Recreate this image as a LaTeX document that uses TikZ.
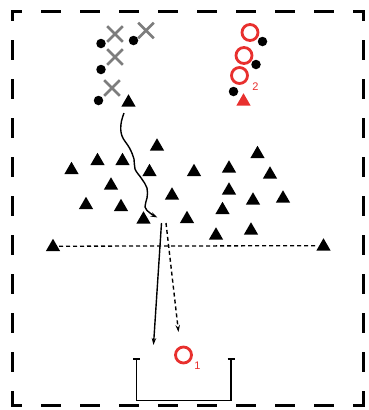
\documentclass[tikz,border=0pt]{standalone}
\usetikzlibrary{shapes.geometric,shapes.misc,arrows.meta}
\usepackage{fontspec}
\newfontfamily\lblfont{Liberation Sans}
\definecolor{pred}{RGB}{232,48,46}
\definecolor{pgray}{RGB}{125,125,125}
\begin{document}
\begin{tikzpicture}[x=1pt,y=-1pt,
 cone/.style={regular polygon,regular polygon sides=3,fill=black,inner sep=0pt,minimum size=16.5pt},
 rcone/.style={cone,fill=pred},
 ball/.style={circle,fill=black,inner sep=0pt,minimum size=9.5pt},
 xpl/.style={cross out,draw=pgray,line width=2.6pt,inner sep=0pt,minimum size=13pt},
 opp/.style={circle,draw=pred,line width=2.8pt,inner sep=0pt,minimum size=16pt},
 lbl/.style={text=pred,font=\lblfont\fontsize{11}{11}\selectfont,inner sep=0pt},
 border/.style={line width=3pt,line cap=rect,dash pattern=on 17pt off 22pt,dash phase=8.5pt},
 arr/.style={-{Stealth[length=7pt,width=4.5pt]},line width=1.4pt},
 fine/.style={dash pattern=on 4pt off 3pt},
 goal/.style={line width=1.4pt}
]
\useasboundingbox (0,0) rectangle (368,410);
% border
\coordinate (b1) at (12,11);
\coordinate (b2) at (363,11);
\coordinate (b3) at (363,405);
\coordinate (b4) at (12,405);
\draw[border] (b1) -- (b2);
\draw[border] (b1) -- (b4);
\draw[border] (b2) -- (b3);
\draw[border] (b4) -- (b3);

% attackers (gray crosses) and balls
\node[xpl] (x1) at (115,34) {};
\node[xpl] (x2) at (146,30.5) {};
\node[xpl] (x3) at (115,57) {};
\node[xpl] (x4) at (112,88) {};
\node[ball] (k1) at (101,43.5) {};
\node[ball] (k2) at (133.5,40.5) {};
\node[ball] (k3) at (101,69.5) {};
\node[ball] (k4) at (98.5,100.5) {};

% red players and balls
\node[opp] (o1) at (250,32.5) {};
\node[opp] (o2) at (244,55.5) {};
\node[opp] (o3) at (239.5,75.5) {};
\node[ball] (r1) at (262.5,41.5) {};
\node[ball] (r2) at (256,64.5) {};
\node[ball] (r3) at (233.5,91.5) {};
\node[lbl] (n2) at (255.5,86.5) {2};
\node[rcone] (rc) at (243.5,101.5) {};

% cones
\node[cone] (c0) at (128.5,102.5) {};
\node[cone] (c1) at (157,146.5) {};
\node[cone] (c2) at (97.5,161) {};
\node[cone] (c3) at (122.5,161) {};
\node[cone] (c4) at (71.5,170) {};
\node[cone] (c5) at (149.5,172) {};
\node[cone] (c6) at (111,185.5) {};
\node[cone] (c7) at (172,195.5) {};
\node[cone] (c8) at (86,205) {};
\node[cone] (c9) at (121,207) {};
\node[cone] (c10) at (143.5,219.5) {};
\node[cone] (c11) at (187,219) {};
\node[cone] (c12) at (257.5,154) {};
\node[cone] (c13) at (194,172) {};
\node[cone] (c14) at (229,168.5) {};
\node[cone] (c15) at (270,174.5) {};
\node[cone] (c16) at (229,190.5) {};
\node[cone] (c17) at (253,200.5) {};
\node[cone] (c18) at (283,198.5) {};
\node[cone] (c19) at (222.5,210) {};
\node[cone] (c20) at (216,235.5) {};
\node[cone] (c21) at (251,230.5) {};
\node[cone] (cl) at (53,247) {};
\node[cone] (cr) at (323.5,246.5) {};

% dotted line
\path (cl.center) ++(6,-0.8) coordinate (dl);
\path (cr.center) ++(-6,-0.8) coordinate (dr);
\draw[line width=1.3pt,fine] (dl) -- (dr);

% dribble
\coordinate (w0) at (124,113);
\coordinate (w1) at (157.5,217.5);
\draw[arr,line width=1.4pt] plot[smooth,tension=0.65] coordinates {(w0) (121,124) (122,136) (129.5,148) (134,159) (135,169) (141.5,178.5) (147,188) (147,198) (145,207) (150,213) (w1)};

% shot and pass
\coordinate (s1) at (161.5,223);
\coordinate (e1) at (153.5,345);
\coordinate (s2) at (166,223);
\coordinate (e2) at (178.5,332);
\draw[arr] (s1) -- (e1);
\draw[arr,fine,line width=1.4pt] (s2) -- (e2);

% goalkeeper
\node[opp] (gk) at (183.5,355) {};
\node[lbl] (n1) at (197.5,365.5) {1};

% goal
\coordinate (g1) at (136.7,359);
\coordinate (g2) at (136.7,400.5);
\coordinate (g3) at (231,400.5);
\coordinate (g4) at (231,359);
\draw[goal] (g1) -- (g2) -- (g3) -- (g4);
\draw[goal] ([xshift=-3.5pt]g1) -- ([xshift=3.5pt]g1);
\draw[goal] ([xshift=-3.5pt]g4) -- ([xshift=3.5pt]g4);
\end{tikzpicture}
\end{document}
